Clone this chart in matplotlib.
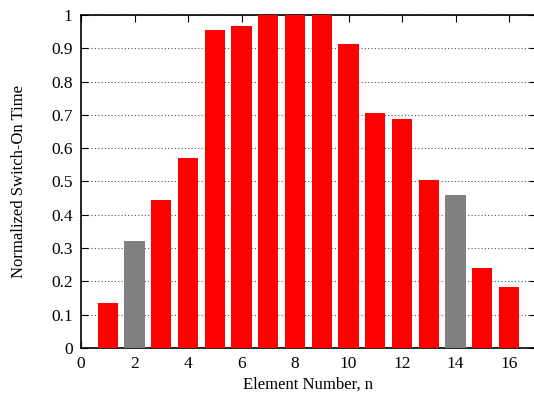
import matplotlib.pyplot as plt

# element numbers and normalized switch-on times
elements = list(range(1, 17))
switch_on = [0.135, 0.32, 0.443, 0.57, 0.955, 0.967, 1.0, 1.0,
             1.0, 0.912, 0.706, 0.689, 0.503, 0.459, 0.24, 0.182]
gray_elements = [2, 14]

plt.rcParams["font.family"] = ["Liberation Serif", "DejaVu Serif"]

colors = ["#808080" if n in gray_elements else "#ff0000" for n in elements]

fig = plt.figure(figsize=(5.34, 4.01), dpi=100)
ax = fig.add_axes([0.1517, 0.1322, 0.8516, 0.8304])

ax.bar(elements, switch_on, width=0.75, color=colors, zorder=3)

ax.set_xlim(0, 17)
ax.set_ylim(0, 1)
ax.set_xticks(range(0, 17, 2))
ax.set_yticks([i / 10 for i in range(11)])
ax.set_yticklabels(["0", "0.1", "0.2", "0.3", "0.4", "0.5", "0.6", "0.7", "0.8", "0.9", "1"])

ax.grid(axis="y", color="#555555", linestyle=(0, (1, 2)), linewidth=0.8, zorder=1)
ax.tick_params(direction="in", top=True, right=True, labelsize=12.5, length=5, pad=6)

for s in ax.spines.values():
    s.set_linewidth(1.2)
ax.spines["right"].set_visible(False)

ax.set_xlabel("Element Number, n", fontsize=12, labelpad=3)
ax.set_ylabel("Normalized Switch-On Time", fontsize=12, labelpad=17)

fig.savefig("out.png", dpi=100)
